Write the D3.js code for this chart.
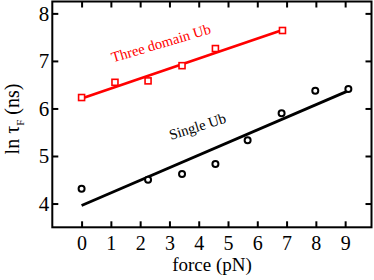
<!DOCTYPE html>
<html>
<head>
<meta charset="utf-8">
<script src="https://cdn.jsdelivr.net/npm/d3@7"></script>
<style>
  html, body { margin: 0; padding: 0; background: #fff; }
  svg { display: block; }
  svg text { font-family: "Liberation Serif", "Times New Roman", Times, "DejaVu Serif", serif; }
</style>
</head>
<body>
<svg id="chart"></svg>
<script>
// data
const threeForce = [0, 1.14, 2.27, 3.43, 4.57, 6.86];
const threeLnTau = [6.23, 6.55, 6.58, 6.90, 7.26, 7.64];
const threeFit   = [[0, 6.21], [6.86, 7.65]];

const singleForce = [0, 2.27, 3.43, 4.57, 5.67, 6.83, 7.98, 9.11];
const singleLnTau = [4.31, 4.50, 4.62, 4.83, 5.33, 5.90, 6.37, 6.41];
const singleFit   = [[0, 3.96], [9.1, 6.37]];

const xTicks = [0, 1, 2, 3, 4, 5, 6, 7, 8, 9];
const yTicks = [4, 5, 6, 7, 8];

const FONT = '"Liberation Serif", "Times New Roman", Times, "DejaVu Serif", serif';

const W = 374, H = 280;
const MARGIN = { top: 1.5, right: 2.5, bottom: 52.7, left: 52.3 };

const svg = d3.select("#chart").attr("width", W).attr("height", H);

const x = d3.scaleLinear().domain([-1, 9.9]).range([MARGIN.left, W - MARGIN.right]);
const y = d3.scaleLinear().domain([3.5, 8.25]).range([H - MARGIN.bottom, MARGIN.top]);

const TICK = 6;

// axes, ticks inward on all four sides
function styleAxis(g) {
  g.attr("font-family", FONT);
  g.select(".domain").remove();
  g.selectAll(".tick line").attr("stroke", "#000").attr("stroke-width", 2);
}

svg.append("g")
  .attr("transform", `translate(0,${y.range()[0]})`)
  .call(d3.axisBottom(x).tickValues(xTicks).tickSize(-TICK).tickPadding(9).tickFormat(d3.format("d")))
  .call(styleAxis)
  .call(g => g.selectAll(".tick text").attr("font-size", 20).attr("fill", "#000"));

svg.append("g")
  .attr("transform", `translate(0,${y.range()[1]})`)
  .call(d3.axisTop(x).tickValues(xTicks).tickSize(-TICK).tickFormat(""))
  .call(styleAxis);

svg.append("g")
  .attr("transform", `translate(${x.range()[0]},0)`)
  .call(d3.axisLeft(y).tickValues(yTicks).tickSize(-TICK).tickPadding(3).tickFormat(d3.format("d")))
  .call(styleAxis)
  .call(g => g.selectAll(".tick text").attr("font-size", 21).attr("fill", "#000"));

svg.append("g")
  .attr("transform", `translate(${x.range()[1]},0)`)
  .call(d3.axisRight(y).tickValues(yTicks).tickSize(-TICK).tickFormat(""))
  .call(styleAxis);

// frame
svg.append("rect")
  .attr("x", x.range()[0]).attr("y", y.range()[1])
  .attr("width", x.range()[1] - x.range()[0])
  .attr("height", y.range()[0] - y.range()[1])
  .attr("fill", "none").attr("stroke", "#000").attr("stroke-width", 2);

// fit lines
const line = d3.line().x(d => x(d[0])).y(d => y(d[1]));

svg.append("path").datum(threeFit).attr("d", line)
  .attr("fill", "none").attr("stroke", "#ff0000").attr("stroke-width", 2.8);

svg.append("path").datum(singleFit).attr("d", line)
  .attr("fill", "none").attr("stroke", "#000").attr("stroke-width", 2.8);

// markers
const sq = 6;
svg.append("g").selectAll("rect")
  .data(threeForce.map((f, i) => [f, threeLnTau[i]]))
  .join("rect")
    .attr("x", d => x(d[0]) - sq / 2)
    .attr("y", d => y(d[1]) - sq / 2)
    .attr("width", sq).attr("height", sq)
    .attr("fill", "#fff").attr("stroke", "#ff0000").attr("stroke-width", 1.6);

svg.append("g").selectAll("circle")
  .data(singleForce.map((f, i) => [f, singleLnTau[i]]))
  .join("circle")
    .attr("cx", d => x(d[0]))
    .attr("cy", d => y(d[1]))
    .attr("r", 3)
    .attr("fill", "#fff").attr("stroke", "#000").attr("stroke-width", 2);

// series labels
svg.append("text")
  .attr("transform", "translate(113,62.5) rotate(-16.5)")
  .attr("font-family", FONT)
  .attr("font-size", 14.6).attr("fill", "#ff0000")
  .text("Three domain Ub");

svg.append("text")
  .attr("transform", "translate(171,140) rotate(-17.5)")
  .attr("font-family", FONT)
  .attr("font-size", 14.6).attr("fill", "#000")
  .text("Single Ub");

// axis titles
svg.append("text")
  .attr("x", 212).attr("y", 271)
  .attr("text-anchor", "middle")
  .attr("font-family", FONT)
  .attr("font-size", 19)
  .text("force (pN)");

const yt = svg.append("text")
  .attr("transform", "translate(19,119) rotate(-90)")
  .attr("text-anchor", "middle")
  .attr("font-family", FONT)
  .attr("font-size", 20);
yt.append("tspan").text("ln τ");
yt.append("tspan").attr("font-size", 11).attr("dy", 5).text("F");
yt.append("tspan").attr("dy", -5).text(" (ns)");
</script>
</body>
</html>
